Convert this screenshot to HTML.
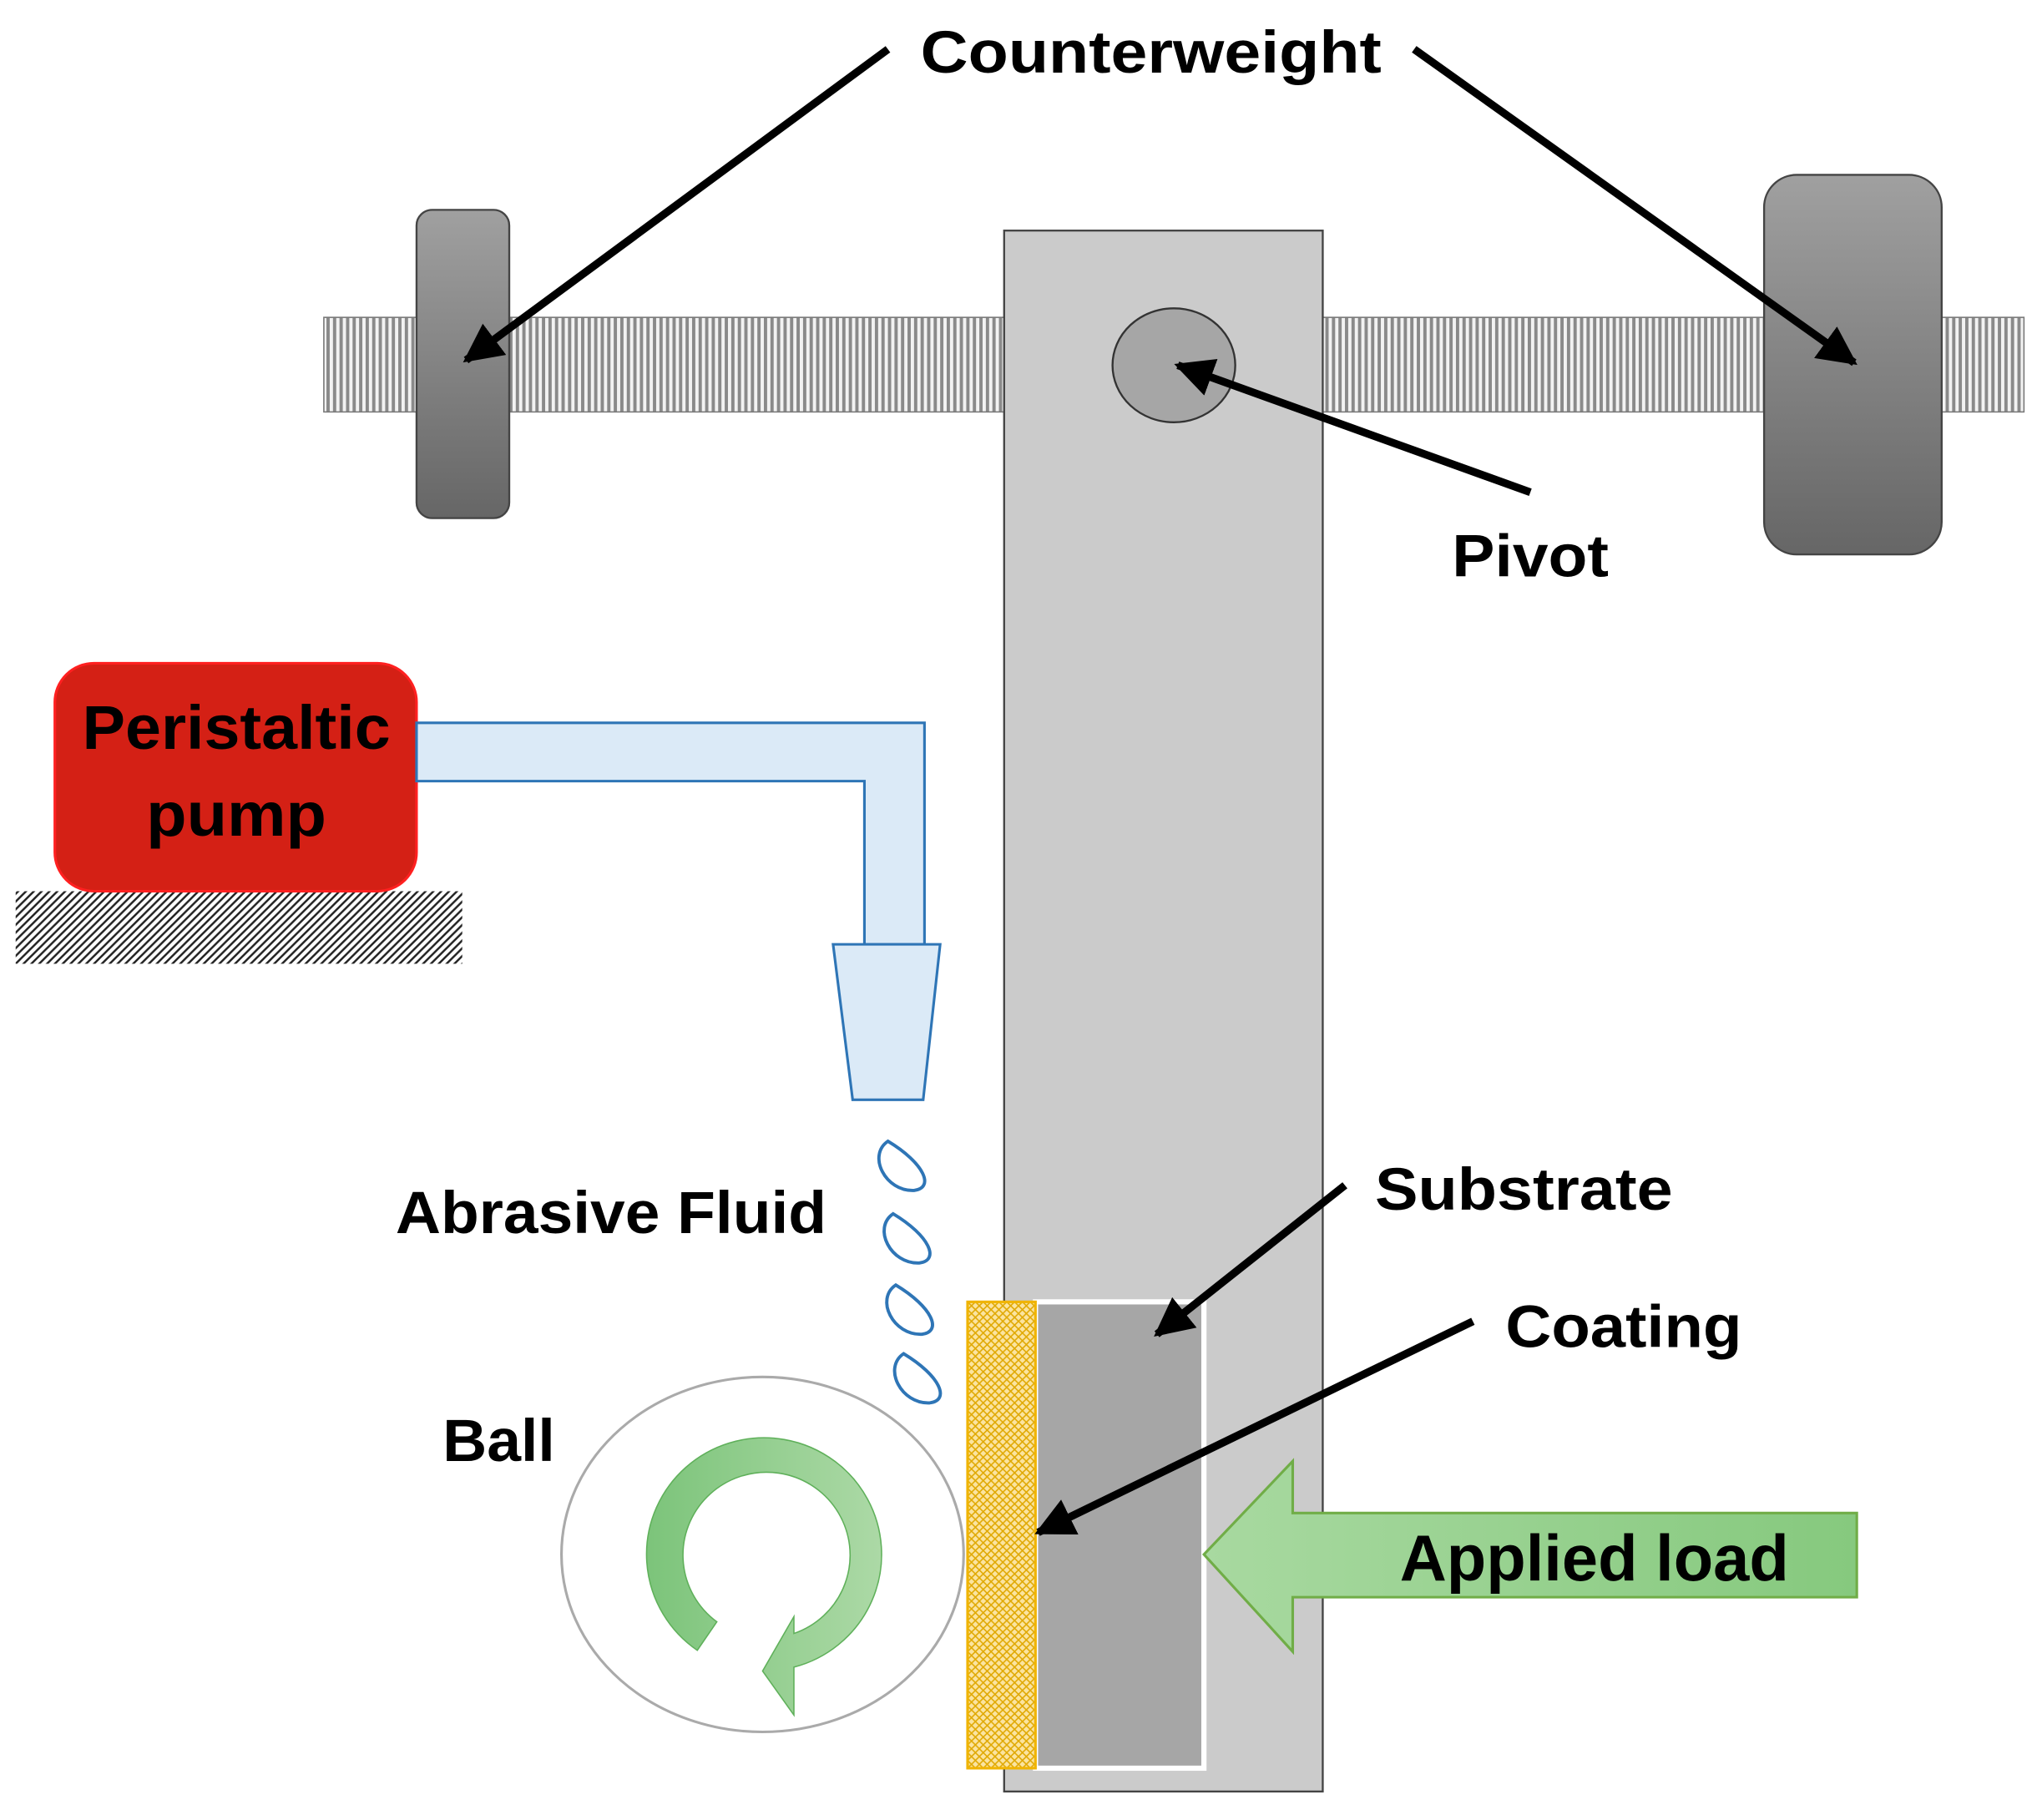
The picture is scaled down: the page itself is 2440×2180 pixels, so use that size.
<!DOCTYPE html>
<html><head><meta charset="utf-8"><style>html,body{margin:0;padding:0;background:#fff}svg{display:block}</style></head>
<body>
<svg width="2440" height="2180" viewBox="0 0 1560 1405" preserveAspectRatio="none" xmlns="http://www.w3.org/2000/svg" font-family="Liberation Sans, sans-serif" font-weight="bold">
<defs>
<pattern id="stripe" width="5" height="10" patternUnits="userSpaceOnUse"><rect width="5" height="10" fill="#f2f2f2"/><rect width="2.5" height="10" fill="#8a8a8a"/></pattern>
<pattern id="hatch" width="6" height="6" patternUnits="userSpaceOnUse"><rect width="6" height="6" fill="#fff"/><path d="M-1,7 L7,-1 M-1,1 L1,-1 M5,7 L7,5" stroke="#222" stroke-width="1.6"/></pattern>
<pattern id="mesh" width="6" height="6" patternUnits="userSpaceOnUse"><rect width="6" height="6" fill="#fbe4a0"/><path d="M0,0 L6,6 M6,0 L0,6" stroke="#e0a800" stroke-width="1"/></pattern>
<linearGradient id="wg" x1="0" y1="0" x2="0" y2="1"><stop offset="0" stop-color="#a0a0a0"/><stop offset="1" stop-color="#666"/></linearGradient>
<linearGradient id="gg" x1="0" y1="0" x2="1" y2="0"><stop offset="0" stop-color="#7cc47a"/><stop offset="1" stop-color="#acd9a6"/></linearGradient>
<linearGradient id="lg" x1="0" y1="0" x2="1" y2="0"><stop offset="0" stop-color="#a8d9a0"/><stop offset="1" stop-color="#86c97e"/></linearGradient>
<marker id="ah" viewBox="0 0 10 10" refX="9" refY="5" markerWidth="5" markerHeight="5" orient="auto"><path d="M0,0 L10,5 L0,10 z" fill="#000"/></marker>
</defs>
<rect x="248" y="245" width="1302" height="73" fill="url(#stripe)" stroke="#777" stroke-width="1"/>
<rect x="769" y="178" width="244" height="1205" fill="#cbcbcb" stroke="#444" stroke-width="1.5"/>
<rect x="319" y="162" width="71" height="238" rx="12" fill="url(#wg)" stroke="#444" stroke-width="1.5"/>
<rect x="1351" y="135" width="136" height="293" rx="25" fill="url(#wg)" stroke="#444" stroke-width="1.5"/>
<ellipse cx="899" cy="282" rx="47" ry="44" fill="#a6a6a6" stroke="#333" stroke-width="1.5"/>
<text x="705" y="56" font-size="46" textLength="353" lengthAdjust="spacingAndGlyphs">Counterweight</text>
<line x1="680" y1="38" x2="357" y2="278" stroke="#000" stroke-width="6" marker-end="url(#ah)"/>
<line x1="1083" y1="38" x2="1420" y2="280" stroke="#000" stroke-width="6" marker-end="url(#ah)"/>
<line x1="1172" y1="380" x2="902" y2="282" stroke="#000" stroke-width="6" marker-end="url(#ah)"/>
<text x="1112" y="445" font-size="46" textLength="120" lengthAdjust="spacingAndGlyphs">Pivot</text>
<rect x="12" y="688" width="342" height="56" fill="url(#hatch)"/>
<rect x="42" y="512" width="277" height="176" rx="30" fill="#d42015" stroke="#ff2020" stroke-width="2"/>
<text x="181" y="578" font-size="48" text-anchor="middle" textLength="236" lengthAdjust="spacingAndGlyphs">Peristaltic</text>
<text x="181" y="645" font-size="48" text-anchor="middle" textLength="138" lengthAdjust="spacingAndGlyphs">pump</text>
<path d="M319,558 L708,558 L708,729 L662,729 L662,603 L319,603 Z" fill="#dbeaf7" stroke="#2e75b6" stroke-width="2"/>
<path d="M638,729 L720,729 L707,849 L653,849 Z" fill="#dbeaf7" stroke="#2e75b6" stroke-width="2"/>
<g fill="none" stroke="#2e75b6" stroke-width="2.5">
<path d="M680,881 C664,892 678,920 700,919 C716,917 708,898 680,881 Z"/>
<path d="M684,937 C668,948 682,976 704,975 C720,973 712,954 684,937 Z"/>
<path d="M686,992 C670,1003 684,1031 706,1030 C722,1028 714,1009 686,992 Z"/>
<path d="M692,1045 C676,1056 690,1084 712,1083 C728,1081 720,1062 692,1045 Z"/>
</g>
<text x="303" y="952" font-size="46" textLength="330" lengthAdjust="spacingAndGlyphs">Abrasive Fluid</text>
<text x="339" y="1128" font-size="46" textLength="86" lengthAdjust="spacingAndGlyphs">Ball</text>
<ellipse cx="584" cy="1200" rx="154" ry="137" fill="#fff" stroke="#aaa" stroke-width="2"/>
<path d="M534,1274 A90,90 0 1 1 608,1287 L608,1324 L584,1290 L608,1248 L608,1261 A64,64 0 1 0 549,1252 Z" fill="url(#gg)" stroke="#5fb05a" stroke-width="1"/>
<rect x="793" y="1005" width="129" height="360" fill="#a6a6a6" stroke="#fff" stroke-width="4"/>
<rect x="741" y="1005" width="52" height="360" fill="url(#mesh)" stroke="#f0b400" stroke-width="2"/>
<text x="1053" y="934" font-size="46" textLength="228" lengthAdjust="spacingAndGlyphs">Substrate</text>
<text x="1153" y="1040" font-size="46" textLength="181" lengthAdjust="spacingAndGlyphs">Coating</text>
<line x1="1030" y1="915" x2="886" y2="1030" stroke="#000" stroke-width="6" marker-end="url(#ah)"/>
<line x1="1128" y1="1020" x2="795" y2="1183" stroke="#000" stroke-width="6" marker-end="url(#ah)"/>
<path d="M922,1200 L990,1128 L990,1168 L1422,1168 L1422,1233 L990,1233 L990,1275 Z" fill="url(#lg)" stroke="#70ad47" stroke-width="2"/>
<text x="1072" y="1220" font-size="50" textLength="298" lengthAdjust="spacingAndGlyphs">Applied load</text>
</svg>
</body></html>
